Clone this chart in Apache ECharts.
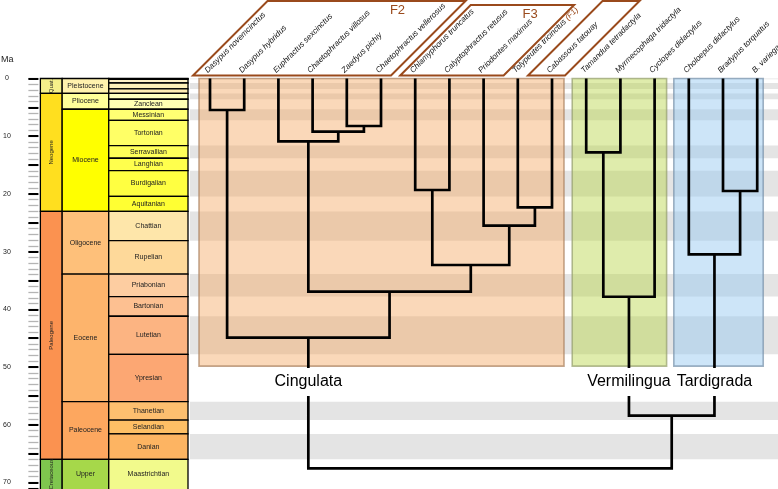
<!DOCTYPE html>
<html><head><meta charset="utf-8">
<script src="https://cdn.jsdelivr.net/npm/echarts@6/dist/echarts.min.js"></script>
<style>html,body{margin:0;padding:0;background:#fff}#c{width:778px;height:489px}</style>
</head><body><div id="c"></div>
<script>
// ---------------- DATA ----------------
const tipLabels = ['Dasypus novemcinctus','Dasypus hybridus','Euphractus sexcinctus','Chaetophractus villosus','Zaedyus pichiy','Chaetophractus vellerosus','Chlamyphorus truncatus','Calyptophractus retusus','Priodontes maximus','Tolypeutes tricinctus (F1)','Cabassous tatouay','Tamandua tetradactyla','Myrmecophaga tridactyla','Cyclopes didactylus','Choloepus didactylus','Bradypus torquatus','B. variegatus'];
// internal nodes (n0..n15): children (tip index or node id) and age in Ma
const nodeLeft  = [0, 4, 3, 2, 6, 9, 8, 'n4', 'n3', 'n0', 11, 'n10', 15, 14, 'n11', 'n9'];
const nodeRight = [1, 5, 'n1', 'n2', 7, 10, 'n5', 'n6', 'n7', 'n8', 12, 13, 16, 'n12', 'n13', 'n14'];
const nodeAge   = [5.46, 8.23, 9.22, 10.88, 19.32, 22.32, 25.51, 32.32, 36.95, 44.92, 12.79, 37.82, 19.50, 30.47, 58.44, 67.56];
// clades
const cladeNames = ['Cingulata','Vermilingua','Tardigrada'];
const cladeNode = ['n9','n11','n13'];
const cladeFirstTip = [0, 11, 14];
const cladeLastTip = [10, 13, 16];
const cladeBoxBase = [49.85, 49.85, 49.85];
const cladeLabelAge = 52.6;
// geologic time scale (Ma)
const periodNames = ['Quat.','Neogene','Paleogene','Cretaceous'];
const periodTop = [0, 2.58, 23.03, 66];
const periodBase = [2.58, 23.03, 66, 100.5];
const epochNames = ['Pleistocene','Pliocene','Miocene','Oligocene','Eocene','Paleocene','Upper'];
const epochTop = [0, 2.58, 5.333, 23.03, 33.9, 56, 66];
const epochBase = [2.58, 5.333, 23.03, 33.9, 56, 66, 100.5];
const stageNames = ['','','','','','','Zanclean','Messinian','Tortonian','Serravallian','Langhian','Burdigalian','Aquitanian','Chattian','Rupelian','Priabonian','Bartonian','Lutetian','Ypresian','Thanetian','Selandian','Danian','Maastrichtian'];
const stageTop = [0, 0.0117, 0.126, 0.781, 1.806, 2.58, 3.6, 5.333, 7.246, 11.63, 13.82, 15.97, 20.44, 23.03, 28.1, 33.9, 37.8, 41.2, 47.8, 56, 59.2, 61.6, 66];
const stageBase = [0.0117, 0.126, 0.781, 1.806, 2.58, 3.6, 5.333, 7.246, 11.63, 13.82, 15.97, 20.44, 23.03, 28.1, 33.9, 37.8, 41.2, 47.8, 56, 59.2, 61.6, 66, 72.1];
const ageTicks = [0, 10, 20, 30, 40, 50, 60, 70];
// header frames around tip labels: first tip, last tip, tag
const frameFirst = [0, 6, 10];
const frameLast = [5, 8, 10];
const frameTag = ['F2', 'F3', ''];

// ---------------- STYLE ----------------
const periodColor = ['#f6f08a','#ffdf1f','#fb9250','#7fc64e'];
const epochColor = ['#fff2ae','#ffff99','#ffff00','#fec07a','#fdb46c','#fda75f','#a6d84a'];
const stageColor = ['#fef2e0','#fff2d3','#fff2c7','#fff2ba','#ffedb3','#ffffbf','#ffffb3','#ffff73','#ffff66','#ffff59','#ffff4d','#ffff41','#ffff33','#fee6aa','#fed99a','#fdcda1','#fdc091','#fcb482','#fca773','#fdbf6f','#febf65','#fdb462','#f2fa8c'];
const cladeFill = ['rgba(245,168,100,0.45)','rgba(185,212,70,0.45)','rgba(150,200,240,0.48)'];
const cladeStroke = ['rgba(170,130,95,0.7)','rgba(150,160,110,0.7)','rgba(120,145,170,0.7)'];
const cladePadL = [11, 14, 15];
const cladePadR = [12, 12, 6];
const framePadL = [17, 15, 24];
const framePadR = [10, 20, 13];
const frameTopY = [1, 5, 1];
const frameTagDX = [-68, -44, 0];
const BROWN = '#9a4a1c';
const YMAX = 71.14;

// ---------------- BUILD ----------------
const pos = {}; // node id -> [x, age]
function ref(c){ return typeof c === 'number' ? [c, 0] : pos[c]; }
const treeData = [];
nodeAge.forEach((a, i) => {
  const L = ref(nodeLeft[i]), R = ref(nodeRight[i]);
  pos['n' + i] = [(L[0] + R[0]) / 2, a];
  treeData.push([L[0], L[1], R[0], R[1], a]);
});

const tsData = [];
periodNames.forEach((n, i) => tsData.push([39, 61, periodTop[i], periodBase[i], n, periodColor[i], 1]));
epochNames.forEach((n, i) => tsData.push([61, 108, epochTop[i], epochBase[i], n, epochColor[i], 0]));
stageNames.forEach((n, i) => tsData.push([108, 188, stageTop[i], stageBase[i], n, stageColor[i], 0]));

// alternating grey bands follow the stage rows
const bandData = [];
stageNames.forEach((n, i) => { if (i % 2 === 1) bandData.push([stageTop[i], stageBase[i]]); });

const boxData = cladeNames.map((n, i) => [cladeFirstTip[i], cladeLastTip[i], 0, cladeBoxBase[i], i]);
const labelData = cladeNames.map((n, i) => [pos[cladeNode[i]][0], cladeLabelAge, n]);
const tipData = tipLabels.map((n, i) => [i, 0, n]);
const frameData = frameTag.map((t, i) => [frameFirst[i], frameLast[i], t]);

const chart = echarts.init(document.getElementById('c'));
const FONT = '"Liberation Sans", Arial, Helvetica, sans-serif';

chart.setOption({
  animation: false,
  grid: [
    {left: 37, top: 78.5, width: 151, bottom: 0},
    {left: 190, top: 78.5, right: 0, bottom: 0}
  ],
  xAxis: [
    {gridIndex: 0, type: 'value', min: 37, max: 188, show: false},
    {gridIndex: 1, type: 'value', min: -0.585, max: 16.608, show: false}
  ],
  yAxis: [
    {gridIndex: 0, type: 'value', position: 'left', inverse: true, min: 0, max: YMAX, interval: 1,
     axisLine: {show: false}, splitLine: {show: false}, axisLabel: {show: false},
     axisTick: {show: true, length: 10, lineStyle: {color: '#b4b4b4', width: 1.3}}},
    {gridIndex: 0, type: 'value', position: 'left', offset: 0, inverse: true, min: 0, max: YMAX, interval: 5,
     axisLine: {show: false}, splitLine: {show: false},
     axisTick: {show: true, length: 10, lineStyle: {color: '#000', width: 2}},
     axisLabel: {show: true, margin: 31.5, align: 'center', fontSize: 7, color: '#222', fontFamily: FONT,
       formatter: v => ageTicks.indexOf(v) >= 0 ? String(v) : ''}},
    {gridIndex: 1, type: 'value', inverse: true, min: 0, max: YMAX, show: false}
  ],
  graphic: [
    {type: 'text', left: 1, top: 55, style: {text: 'Ma', fontSize: 9, fill: '#222', fontFamily: FONT}}
  ],
  series: [
    { // grey stage bands
      type: 'custom', xAxisIndex: 1, yAxisIndex: 2, data: bandData, z: 1, silent: true,
      renderItem: (p, api) => {
        const a = api.coord([-0.585, api.value(0)]), b = api.coord([16.608, api.value(1)]);
        return {type: 'rect', shape: {x: a[0], y: a[1], width: b[0] - a[0], height: b[1] - a[1]}, style: {fill: '#e4e4e4'}};
      }
    },
    { // clade boxes
      type: 'custom', xAxisIndex: 1, yAxisIndex: 2, data: boxData, z: 2, silent: true,
      renderItem: (p, api) => {
        const i = api.value(4);
        const a = api.coord([api.value(0), api.value(2)]), b = api.coord([api.value(1), api.value(3)]);
        const x0 = a[0] - cladePadL[i], x1 = b[0] + cladePadR[i];
        return {type: 'rect', shape: {x: x0, y: a[1], width: x1 - x0, height: b[1] - a[1]},
          style: {fill: cladeFill[i], stroke: cladeStroke[i], lineWidth: 1.6}};
      }
    },
    { // tree
      type: 'custom', xAxisIndex: 1, yAxisIndex: 2, data: treeData, z: 3, silent: true, clip: false,
      renderItem: (p, api) => {
        const xl = api.value(0), al = api.value(1), xr = api.value(2), ar = api.value(3), a = api.value(4);
        const pts = [api.coord([xl, al]), api.coord([xl, a]), api.coord([xr, a]), api.coord([xr, ar])];
        return {type: 'polyline', shape: {points: pts}, style: {stroke: '#000', lineWidth: 2.7, fill: null, lineJoin: 'miter', lineCap: 'butt'}};
      }
    },
    { // clade labels
      type: 'custom', xAxisIndex: 1, yAxisIndex: 2, data: labelData, z: 5, silent: true, clip: false,
      renderItem: (p, api) => {
        const c = api.coord([api.value(0), api.value(1)]);
        return {type: 'text', x: c[0], y: c[1], z2: 10,
          style: {text: labelData[p.dataIndex][2], fontSize: 16, fontFamily: FONT, fill: '#000', align: 'center', verticalAlign: 'middle',
            backgroundColor: '#fff', padding: [6, 2, 6, 2]}};
      }
    },
    { // tip labels
      type: 'custom', xAxisIndex: 1, yAxisIndex: 2, data: tipData, z: 5, silent: true, clip: false,
      renderItem: (p, api) => {
        const c = api.coord([api.value(0), api.value(1)]);
        const name = tipData[p.dataIndex][2];
        const m = name.match(/^(.*)(\(F1\))$/);
        return {type: 'text', x: c[0] - 1, y: c[1] - 4, rotation: Math.PI / 4,
          style: {text: m ? m[1] + '{f|' + m[2] + '}' : name, fontSize: 8, fontStyle: 'italic', fontFamily: FONT, fill: '#111',
            align: 'left', verticalAlign: 'bottom', rich: {f: {fill: BROWN, fontSize: 8, fontStyle: 'italic', fontFamily: FONT}}}};
      }
    },
    { // header frames
      type: 'custom', xAxisIndex: 1, yAxisIndex: 2, data: frameData, z: 4, silent: true, clip: false,
      renderItem: (p, api) => {
        const i = p.dataIndex;
        const a = api.coord([api.value(0), 0]), b = api.coord([api.value(1), 0]);
        const yb = a[1] - 3, h = yb - frameTopY[i];
        const xl = a[0] - framePadL[i], xr = b[0] + framePadR[i];
        const kids = [{type: 'polygon', shape: {points: [[xl, yb], [xl + h, yb - h], [xr + h, yb - h], [xr, yb]]},
          style: {fill: 'none', stroke: BROWN, lineWidth: 2}}];
        if (frameData[i][2]) kids.push({type: 'text', x: xr + h + frameTagDX[i], y: yb - h + 9,
          style: {text: frameData[i][2], fontSize: 13, fontFamily: FONT, fill: BROWN, align: 'center', verticalAlign: 'middle'}});
        return {type: 'group', children: kids};
      }
    },
    { // time scale
      type: 'custom', xAxisIndex: 0, yAxisIndex: 0, data: tsData, z: 3, silent: true,
      renderItem: (p, api) => {
        const d = tsData[p.dataIndex];
        const a = api.coord([d[0], d[2]]), b = api.coord([d[1], d[3]]);
        const bottom = Math.min(b[1], api.coord([d[0], YMAX])[1]);
        const kids = [{type: 'rect', shape: {x: a[0], y: a[1], width: b[0] - a[0], height: b[1] - a[1]},
          style: {fill: d[5], stroke: '#000', lineWidth: 1.3}}];
        if (d[4]) kids.push({type: 'text', x: (a[0] + b[0]) / 2, y: (a[1] + bottom) / 2, rotation: d[6] ? Math.PI / 2 : 0,
          style: {text: d[4], fontSize: d[6] ? 6 : 7, fontFamily: FONT, fill: '#222', align: 'center', verticalAlign: 'middle'}});
        return {type: 'group', children: kids};
      }
    }
  ]
});
</script></body></html>
